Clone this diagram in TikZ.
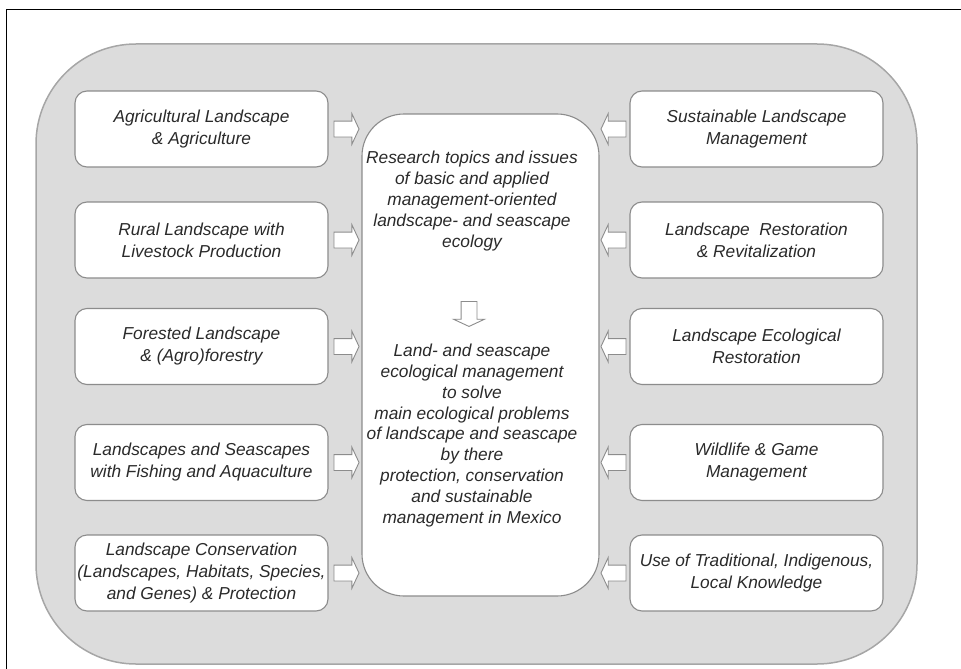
\documentclass[tikz,border=0pt]{standalone}
\usepackage{fontspec}
\setmainfont{Liberation Sans}
\usetikzlibrary{shapes.arrows,positioning}
\definecolor{panelgray}{HTML}{DCDCDC}
\definecolor{panelline}{HTML}{A6A6A6}
\definecolor{boxline}{HTML}{8C8C8C}
\definecolor{inkgray}{HTML}{2A2A2A}
\def\boxw{253}
\def\boxh{76}
\def\leftx{201.5}
\def\rightx{756.5}

\begin{document}
\begin{tikzpicture}[x=1pt,y=-1pt]
    \tikzset{%
      topic/.style={%
        draw=boxline, line width=1.1pt, fill=white, rounded corners=12pt,
        minimum width=\boxw pt, minimum height=\boxh pt, inner sep=0pt,
        align=center, text=inkgray, font=\fontsize{17.3}{22}\selectfont\itshape},
      blockarr/.style={%
        single arrow, draw=boxline, fill=white, line width=0.9pt,
        minimum height=25pt, inner xsep=0pt, inner ysep=7.5pt,
        single arrow head extend=7.5pt, single arrow tip angle=130, anchor=tail},
      centretext/.style={%
        align=center, text=inkgray, inner sep=0pt,
        font=\fontsize{17.3}{20.8}\selectfont\itshape}}

    \useasboundingbox (0,0) rectangle (961,669);
    \draw[line width=0.8pt] (6,669) |- (961,9);

    % grey panel
    \draw[fill=panelgray, draw=panelline, line width=1.5pt, rounded corners=100pt]
      (36,44) rectangle (917,664);

    % central box
    \node[draw=boxline, line width=1.1pt, fill=white, rounded corners=42pt,
      minimum width=237pt, minimum height=482pt] (c) at (480.5,355) {};

    \node[topic] (l1) at (\leftx,129) {Agricultural Landscape\\ \& Agriculture};
    \node[topic] (l2) at (\leftx,240) {Rural Landscape with\\Livestock Production};
    \node[topic] (l3) at (\leftx,346.5) {Forested Landscape\\ \& (Agro)forestry};
    \node[topic] (l4) at (\leftx,462.5) {Landscapes and Seascapes\\with Fishing and Aquaculture};
    \node[topic] (l5) at (\leftx,573) {Landscape Conservation\\(Landscapes, Habitats, Species,\\and Genes) \& Protection};

    \node[topic] (r1) at (\rightx,129) {Sustainable Landscape\\Management};
    \node[topic] (r2) at (\rightx,240) {Landscape\ \ Restoration\\ \& Revitalization};
    \node[topic] (r3) at (\rightx,346.5) {Landscape Ecological\\Restoration};
    \node[topic] (r4) at (\rightx,462.5) {Wildlife \& Game\\Management};
    \node[topic] (r5) at (\rightx,573) {Use of Traditional, Indigenous,\\Local Knowledge};

    \foreach \i in {1,...,5}{
      \node[blockarr] (la\i) at ([xshift=5pt]l\i.east) {};
      \node[blockarr, shape border rotate=180] (ra\i) at ([xshift=-3pt]r\i.west) {};
    }

    \node[centretext] (ctop) at (472,201) {Research topics and issues\\of basic and applied\\management-oriented\\landscape- and seascape\\ecology};
    \node[blockarr, shape border rotate=270, inner xsep=7.5pt, inner ysep=0pt] (dn) at (469,301) {};
    \node[centretext] (cbot) at (472,435.5) {Land- and seascape\\ecological management\\to solve\\main ecological problems\\of landscape and seascape\\by there\\protection, conservation\\and sustainable\\management in Mexico};
  \end{tikzpicture}
\end{document}
